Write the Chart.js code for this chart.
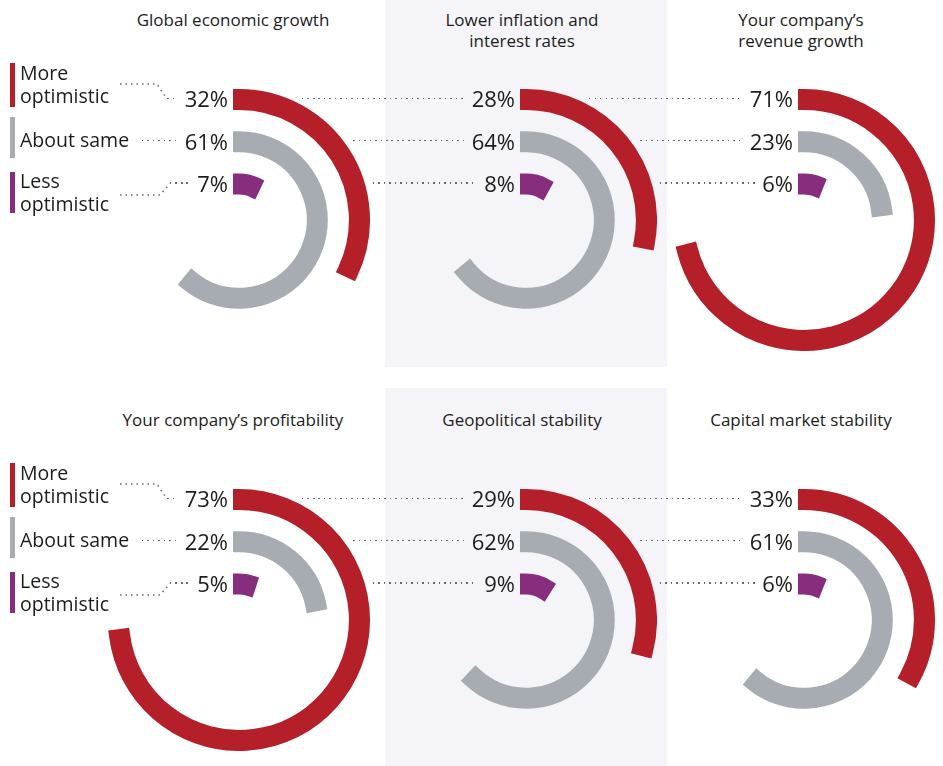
<!DOCTYPE html>
<html>
<head>
<meta charset="utf-8">
<script src="https://cdn.jsdelivr.net/npm/chart.js@4.4.1/dist/chart.umd.min.js"></script>
<style>
  body { margin: 0; background: #fff; font-family: "Open Sans", sans-serif; color: #1c1c1c; }
  #page { position: relative; width: 943px; height: 766px; overflow: hidden; }
  .band { position: absolute; left: 385px; width: 282px; background: #f5f5f9; }
  .title { position: absolute; width: 280px; margin-left: -140px; text-align: center; font-size: 17px; line-height: 21px; }
  .ring { position: absolute; width: 262px; height: 262px; }
  .pct { position: absolute; height: 22px; display: flex; align-items: center; font-size: 22px; line-height: 22px; white-space: nowrap; }
  .dots { flex: 1; height: 1.5px; margin-right: 7px; background: repeating-linear-gradient(to right, #5c6a7e 0 1.5px, transparent 1.5px 5.5px); }
  .bar { position: absolute; left: 10px; width: 5px; }
  .lg { position: absolute; left: 20px; font-size: 19.5px; line-height: 23px; white-space: nowrap; }
  svg { position: absolute; left: 0; top: 0; }
</style>
</head>
<body>
<div id="page">
  <div class="band" style="top:0;height:367px"></div>
  <div class="band" style="top:388px;height:378px"></div>
  <svg id="leaders" width="943" height="766"></svg>
</div>
<script>
// survey answers, % of respondents
const topics = [
  ["Global economic growth"],
  ["Lower inflation and", "interest rates"],
  ["Your company\u2019s", "revenue growth"],
  ["Your company\u2019s profitability"],
  ["Geopolitical stability"],
  ["Capital market stability"]
];
const moreOptimistic = [32, 28, 71, 73, 29, 33];
const aboutSame = [61, 64, 23, 22, 62, 61];
const lessOptimistic = [7, 8, 6, 5, 9, 6];
const seriesNames = [["More", "optimistic"], ["About same"], ["Less", "optimistic"]];

const colors = ["#b51f29", "#a7acb2", "#862d7d"];
const colX = [233, 520, 798];      // right edge of the % labels + 5
const titleX = [233, 522, 801];
const rowY = [219.5, 619.5];
const R = 131, CAP = 6;            // visible outer radius, square end caps
const ringT = 21.1;                // visible ring thickness (gaps same size)
const ringMid = [R - ringT / 2, R - 2.5 * ringT, R - 4.5 * ringT];
// where the dotted leader starts, relative to previous column
const leadStart = [69, 120, 140];

const page = document.getElementById("page");
const svg = document.getElementById("leaders");

function el(cls, css, html) {
  const d = document.createElement("div");
  d.className = cls;
  Object.assign(d.style, css);
  if (html !== undefined) d.innerHTML = html;
  page.appendChild(d);
  return d;
}

function dotPath(d) {
  const p = document.createElementNS("http://www.w3.org/2000/svg", "path");
  p.setAttribute("d", d);
  p.setAttribute("fill", "none");
  p.setAttribute("stroke", "#5c6a7e");
  p.setAttribute("stroke-width", "1.5");
  p.setAttribute("stroke-dasharray", "1.5 4");
  svg.appendChild(p);
}

const blank = "rgba(0,0,0,0)";
const inner = ringT - 2 * CAP;
const gapW = ringT + 2 * CAP;
const spacer = { data: [100], backgroundColor: [blank], borderWidth: 0, weight: gapW, hoverOffset: 0 };

topics.forEach((t, i) => {
  const col = i % 3, row = Math.floor(i / 3);
  const cx = colX[col], cy = rowY[row];
  const ccx = cx + CAP;   // true centre of the rings
  const oy = row * 400;

  el("title", { left: titleX[col] + "px", top: (9 + oy) + "px" }, t.join("<br>"));

  const box = el("ring", { left: (ccx - R) + "px", top: (cy - R) + "px" });
  const cv = document.createElement("canvas");
  box.appendChild(cv);
  const vals = [moreOptimistic[i], aboutSame[i], lessOptimistic[i]];
  const ds = [];
  vals.forEach((v, k) => {
    if (k > 0) ds.push(spacer);
    ds.push({
      data: [v, 100 - v],
      backgroundColor: [colors[k], blank],
      borderColor: [colors[k], blank],
      borderWidth: 2 * CAP,
      borderJoinStyle: "miter",
      weight: inner,
      hoverOffset: 0
    });
  });
  new Chart(cv, {
    type: "doughnut",
    data: { labels: ["yes", "rest"], datasets: ds },
    options: {
      responsive: true, maintainAspectRatio: false, animation: false, events: [],
      cutout: R - 5 * ringT + CAP, rotation: 0, hoverOffset: 0,
      layout: { padding: 0 },
      plugins: { legend: { display: false }, tooltip: { enabled: false } }
    }
  });

  vals.forEach((v, k) => {
    const yc = cy - ringMid[k];
    let x0;
    if (col === 0) x0 = [167, 142, 170][k];
    else x0 = colX[col - 1] + leadStart[k];
    el("pct", { left: x0 + "px", width: (cx - 5 - x0) + "px", top: (yc - 11.65) + "px" },
      '<span class="dots"></span><span>' + v + "%</span>");
  });

  if (col === 0) {
    const bars = [[63, 44], [117, 41], [172, 41]];
    const textTop = [61, 128, 169];
    seriesNames.forEach((n, k) => {
      el("bar", { top: (bars[k][0] + oy) + "px", height: bars[k][1] + "px", background: colors[k] });
      el("lg", { top: (textTop[k] + oy) + "px" }, n.join("<br>"));
    });
    dotPath(`M120,${84 + oy} L157,${84 + oy} L167,${cy - ringMid[0]}`);
    dotPath(`M120,${195 + oy} L160,${195 + oy} L170,${cy - ringMid[2]}`);
  }
});
</script>
</body>
</html>
